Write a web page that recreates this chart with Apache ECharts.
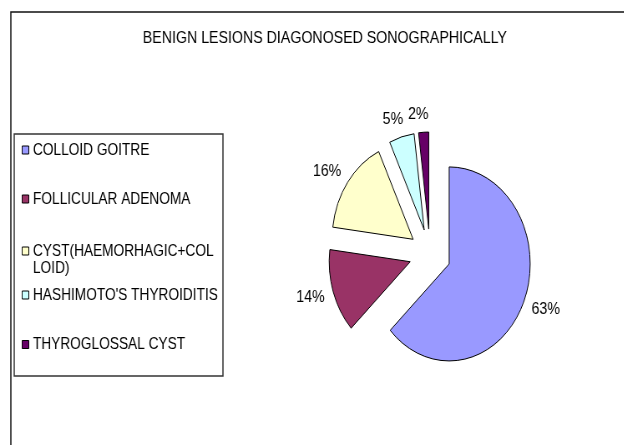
<!DOCTYPE html>
<html>
<head>
<meta charset="utf-8">
<script src="https://cdn.jsdelivr.net/npm/echarts@6/dist/echarts.min.js"></script>
<style>
  html, body { margin: 0; padding: 0; background: #fff; overflow: hidden; }
  #wrap { width: 624px; height: 445px; overflow: hidden; position: relative; }
  #chart { width: 748px; height: 445px; transform: scaleX(0.835); transform-origin: 0 0; }
</style>
</head>
<body>
<div id="wrap"><div id="chart"></div></div>
<script>
const titleText = 'BENIGN LESIONS DIAGONOSED SONOGRAPHICALLY';
const categories = ['COLLOID GOITRE', 'FOLLICULAR ADENOMA', 'CYST(HAEMORHAGIC+COLLOID)', "HASHIMOTO'S THYROIDITIS", 'THYROGLOSSAL CYST'];
const values = [63, 14, 16, 5, 2];
const colors = ['#9999FF', '#993366', '#FFFFCC', '#CCFFFF', '#660066'];

// layout (not data)
const legendTops = [141.5, 190.5, 225.5, 286.5, 336];
const legendLeadLine = [false, false, true, false, false];
const FONT = "'Liberation Sans', Arial, sans-serif";

const chart = echarts.init(document.getElementById('chart'), null, { renderer: 'canvas' });

const legends = categories.map((name, i) => ({
  data: [name],
  orient: 'vertical',
  left: 26,
  top: legendTops[i],
  padding: 0,
  itemWidth: 8,
  itemHeight: 8,
  icon: 'rect',
  selectedMode: false,
  itemStyle: { borderColor: '#000', borderWidth: 1 },
  formatter: (n) => (legendLeadLine[i] ? '\n' : '') + n,
  textStyle: {
    fontFamily: FONT, fontSize: 16.4, color: '#000', lineHeight: 17,
    width: 223, overflow: 'breakAll'
  }
}));

const option = {
  animation: false,
  backgroundColor: '#fff',
  color: colors,
  title: {
    text: titleText,
    left: 171,
    top: 29.5,
    padding: 0,
    textStyle: { fontFamily: FONT, fontSize: 17, fontWeight: 'normal', color: '#000' }
  },
  legend: legends,
  graphic: [
    { type: 'rect', shape: { x: 13, y: 12, width: 900, height: 600 },
      style: { fill: 'none', stroke: '#111', lineWidth: 1.5 }, silent: true, z: 0 },
    { type: 'rect', shape: { x: 17, y: 134, width: 250, height: 242 },
      style: { fill: 'none', stroke: '#333', lineWidth: 1.5 }, silent: true, z: 0 }
  ],
  series: [{
    type: 'pie',
    center: [515, 254],
    radius: 97,
    startAngle: 90,
    clockwise: true,
    selectedMode: 'multiple',
    selectedOffset: 25,
    avoidLabelOverlap: false,
    emphasis: { disabled: true },
    itemStyle: { borderColor: '#000', borderWidth: 1 },
    select: { itemStyle: { borderColor: '#000', borderWidth: 1 } },
    label: {
      show: true,
      position: 'outside',
      formatter: '{d}%',
      fontFamily: FONT,
      fontSize: 17,
      color: '#000',
      distanceToLabelLine: -7
    },
    labelLine: { show: false, length: 18, length2: 0 },
    data: categories.map((name, i) => ({ name: name, value: values[i], selected: true }))
  }]
};

chart.setOption(option);
</script>
</body>
</html>
